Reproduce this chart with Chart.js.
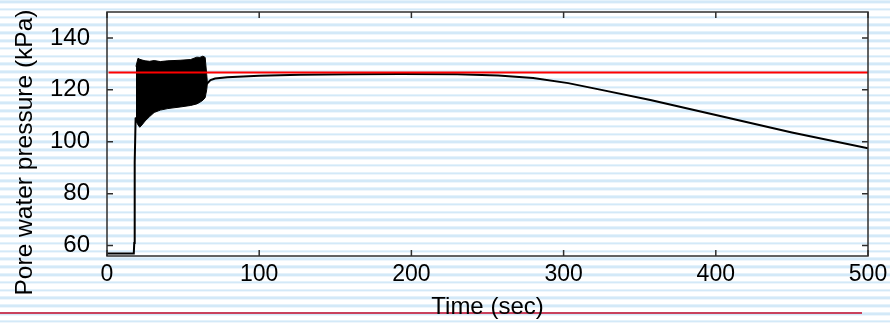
<!DOCTYPE html>
<html><head><meta charset="utf-8">
<script src="https://cdn.jsdelivr.net/npm/chart.js@4"></script>
<style>
html,body{margin:0;padding:0;background:#fff;}
#wrap{position:relative;width:890px;height:323px;overflow:hidden;
background:repeating-linear-gradient(to bottom,#d3e9f8 0px,#d3e9f8 2.6px,#ffffff 2.6px,#ffffff 7.8px);
background-position:0 0.4px;}
#redline{position:absolute;left:0;top:312px;width:862px;height:1.5px;background:#c9415c;}
canvas{position:absolute;left:0;top:0;}
</style></head>
<body><div id="wrap"><div id="redline"></div><canvas id="c" width="890" height="323"></canvas></div>
<script>
// ---- data ----
const xTitle = 'Time (sec)';
const yTitle = 'Pore water pressure (kPa)';
const xTicks = [0, 100, 200, 300, 400, 500];
const yTicks = [60, 80, 100, 120, 140];

// main pore-pressure trace
const timeMain = [0, 17.6, 17.9, 18.2, 18.8, 66, 68, 71, 79, 100, 127, 160, 193, 230, 257, 280, 303, 324, 357, 400, 450, 500];
const pressureMain = [57, 57, 61, 92, 109, 122.6, 123.8, 124.4, 124.9, 125.4, 125.8, 126.0, 126.1, 126.0, 125.5, 124.6, 122.6, 120.1, 116.1, 110.3, 103.6, 97.5];

// envelope of the cyclic (shaking) phase
const timeBand = [19.0, 20.4, 21.5, 23, 25, 28, 31, 35, 40, 48, 55, 59, 61, 63, 64.5, 65.5, 66];
const bandLow  = [108, 106.5, 105.6, 106.5, 108, 109.7, 111.3, 112.2, 112.8, 113.4, 114, 114.6, 115.2, 116, 117, 120, 122.6];
const bandHigh = [129, 132.2, 131.8, 131.5, 131.2, 131.0, 131.3, 130.9, 131.2, 131.4, 131.7, 132.6, 132.5, 133.0, 132.5, 126, 122.6];

// reference (red) level
const timeRef = [1, 500];
const pressureRef = [126.7, 126.7];

const FAMILY = '"Liberation Sans", Arial, Helvetica, sans-serif';
const pts = (xs, ys) => xs.map((v, i) => ({x: v, y: ys[i]}));

const framePlugin = {
  id: 'frame',
  afterDatasetsDraw(chart) {
    const {ctx, chartArea: a, scales: {x, y}} = chart;
    ctx.save();
    ctx.strokeStyle = '#2e2e2e';
    ctx.lineWidth = 1.5;
    ctx.strokeRect(a.left, a.top, a.right - a.left, a.bottom - a.top);
    ctx.beginPath();
    x.ticks.forEach(t => {
      const px = x.getPixelForValue(t.value);
      ctx.moveTo(px, a.bottom); ctx.lineTo(px, a.bottom - 6);
      ctx.moveTo(px, a.top); ctx.lineTo(px, a.top + 6);
    });
    y.ticks.forEach(t => {
      const py = y.getPixelForValue(t.value);
      ctx.moveTo(a.left, py); ctx.lineTo(a.left + 6, py);
      ctx.moveTo(a.right, py); ctx.lineTo(a.right - 6, py);
    });
    ctx.stroke();
    ctx.restore();
    ctx.save();
    ctx.translate(25.5, 152.5);
    ctx.rotate(-Math.PI / 2);
    ctx.font = '24.5px ' + FAMILY;
    ctx.fillStyle = '#000';
    ctx.textAlign = 'center';
    ctx.textBaseline = 'middle';
    ctx.fillText(yTitle, 0, 0);
    ctx.restore();
  }
};

new Chart(document.getElementById('c'), {
  type: 'line',
  data: {
    datasets: [
      {data: pts(timeRef, pressureRef), borderColor: '#ff0000', borderWidth: 2, pointRadius: 0, fill: false},
      {data: pts(timeMain, pressureMain), borderColor: '#000', borderWidth: 2, pointRadius: 0, fill: false},
      {data: pts(timeBand, bandLow), borderColor: '#000', borderWidth: 1, pointRadius: 0, fill: false},
      {data: pts(timeBand, bandHigh), borderColor: '#000', borderWidth: 1, pointRadius: 0, fill: '-1', backgroundColor: '#000'}
    ]
  },
  options: {
    responsive: false,
    animation: false,
    devicePixelRatio: 1,
    layout: {padding: {left: 0, right: 22, top: 12, bottom: 0}},
    elements: {line: {tension: 0}},
    plugins: {legend: {display: false}, tooltip: {enabled: false}},
    scales: {
      x: {
        type: 'linear', min: 0, max: 500,
        afterBuildTicks: s => { s.ticks = xTicks.map(v => ({value: v})); },
        afterFit: s => { s.height = 67; s.paddingLeft = 0; s.paddingRight = 0; },
        grid: {display: false, drawTicks: false},
        border: {display: false},
        ticks: {padding: 5, color: '#000', font: {size: 23, family: FAMILY}, maxRotation: 0, autoSkip: false},
        title: {display: true, text: xTitle, color: '#000', font: {size: 24, family: FAMILY}, padding: {top: 0, bottom: 1}}
      },
      y: {
        type: 'linear', min: 56, max: 150,
        afterBuildTicks: s => { s.ticks = yTicks.map(v => ({value: v})); },
        afterFit: s => { s.width = 107; s.paddingTop = 0; s.paddingBottom = 0; },
        grid: {display: false, drawTicks: false},
        border: {display: false},
        ticks: {padding: 17, color: '#000', font: {size: 24, family: FAMILY}},
        title: {display: false}
      }
    }
  },
  plugins: [framePlugin]
});
</script></body></html>
